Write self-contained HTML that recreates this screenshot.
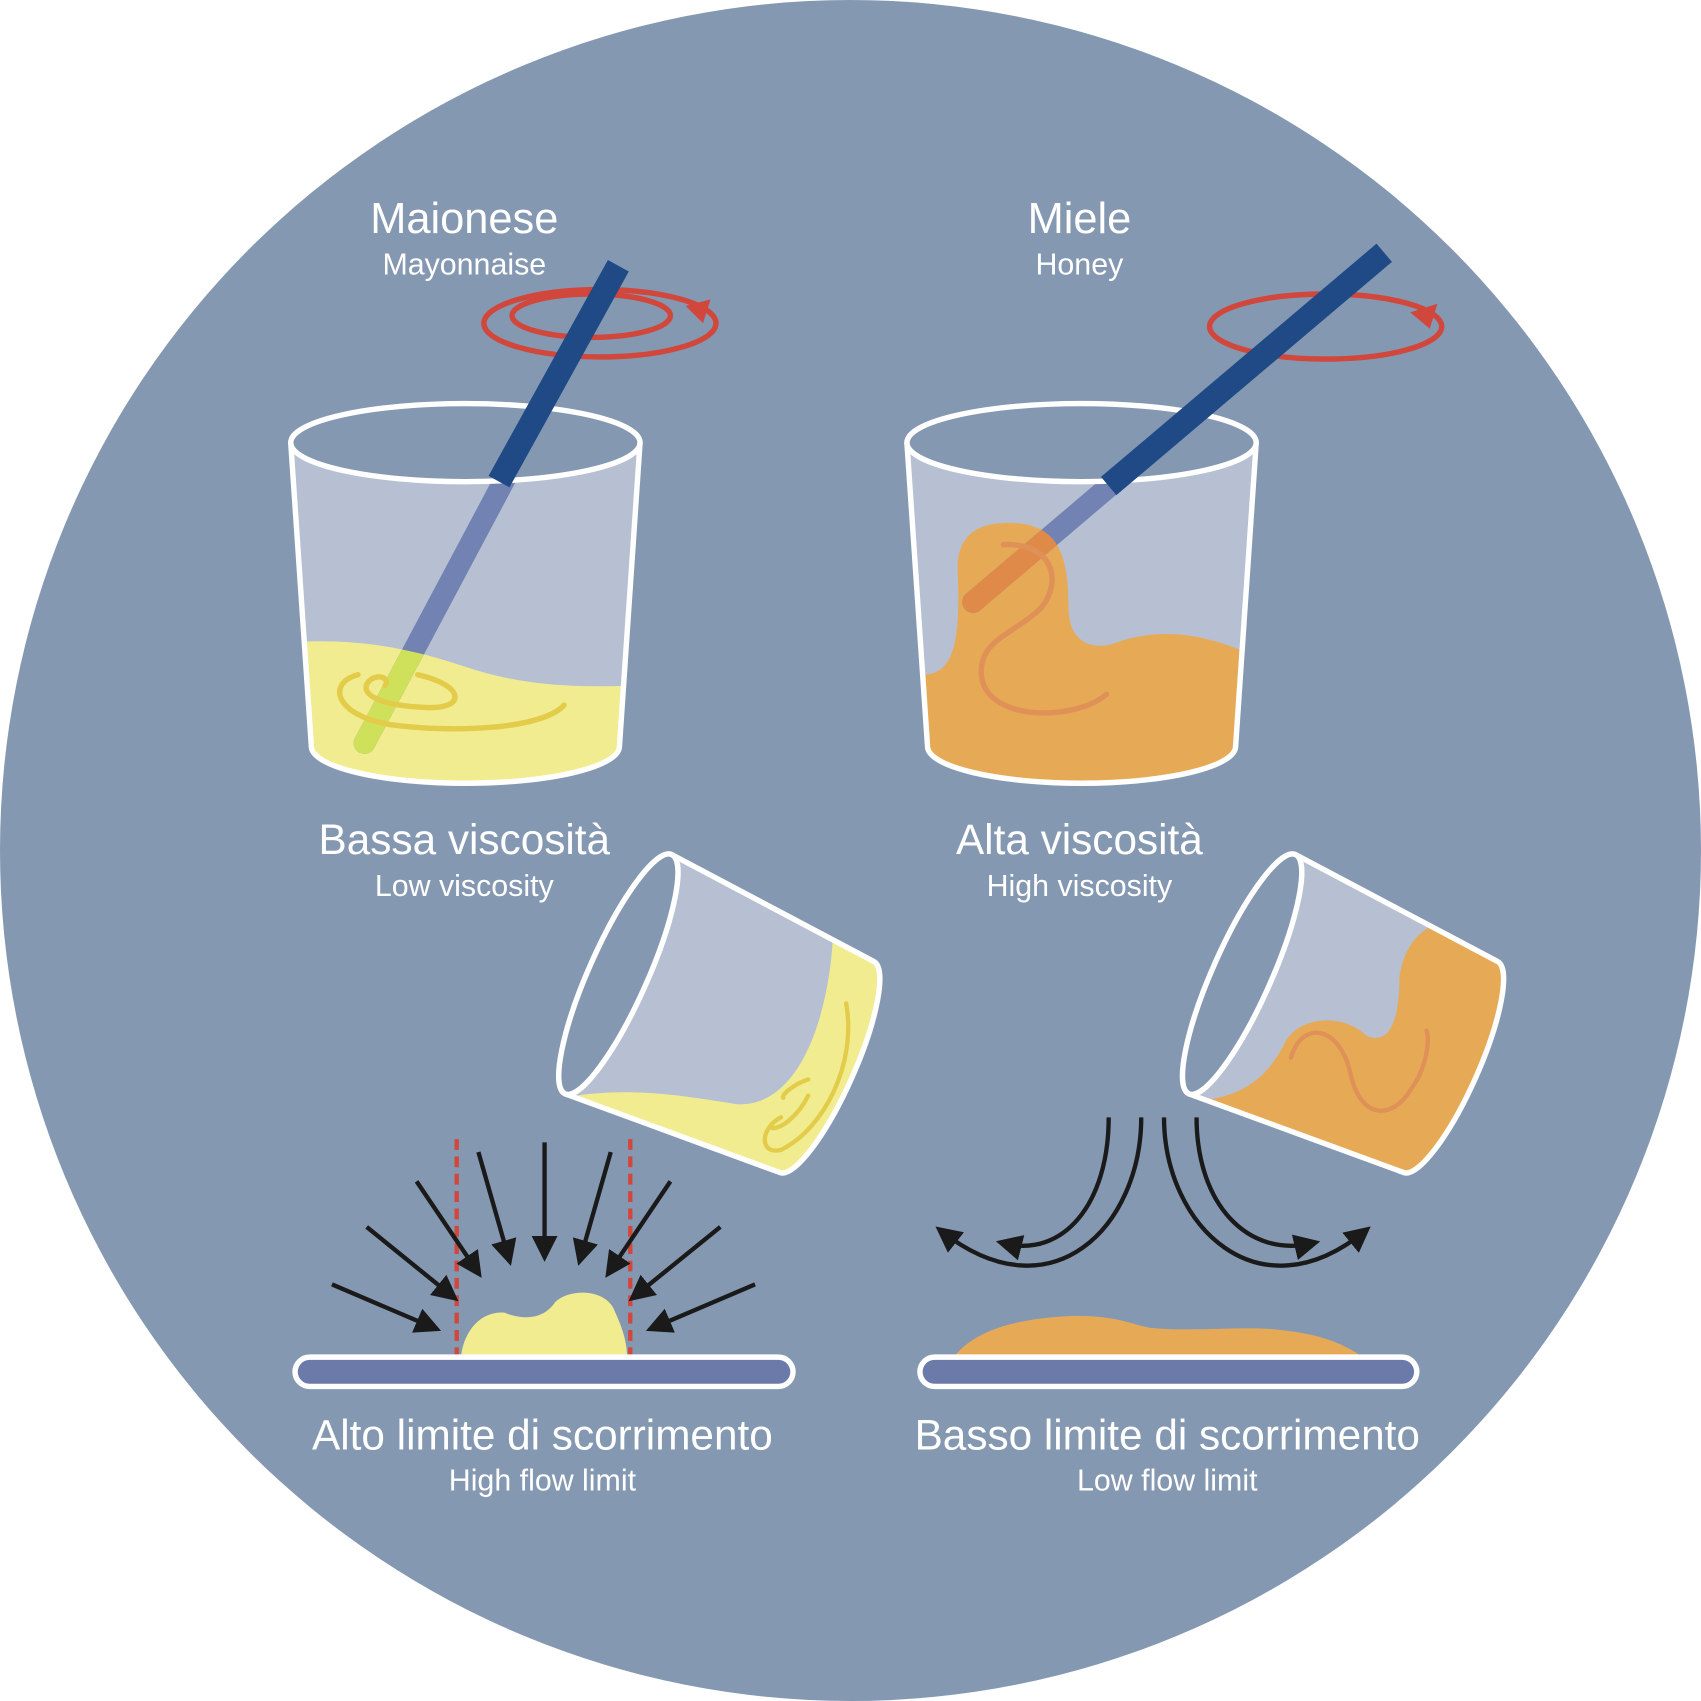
<!DOCTYPE html>
<html><head><meta charset="utf-8"><style>
html,body{margin:0;padding:0;background:#fff;}
svg{display:block;}
text{font-family:"Liberation Sans",sans-serif;fill:#fff;text-anchor:middle;}
</style></head><body>
<svg width="1701" height="1701" viewBox="0 0 1568 1568" xmlns="http://www.w3.org/2000/svg">
<defs>
<marker id="ah" viewBox="0 0 10 10" refX="7" refY="5" markerWidth="6" markerHeight="6" orient="auto"><path d="M0,0 L10,5 L0,10 Z" fill="#1a1a1a"/></marker>
<clipPath id="gl"><path d="M268,408 L287,688 A142,34 0 0 0 571,688 L590,408 Z"/></clipPath>
<clipPath id="gr"><path d="M836,408 L855,688 A142,34 0 0 0 1139,688 L1158,408 Z"/></clipPath>
<clipPath id="tl"><path transform="translate(570,898) rotate(-66) scale(0.75)" d="M-161,0 L-142,280 A142,34 0 0 0 142,280 L161,0 A161,36 0 0 0 -161,0 Z"/></clipPath>
<clipPath id="tr"><path transform="translate(1145,898) rotate(-66) scale(0.75)" d="M-161,0 L-142,280 A142,34 0 0 0 142,280 L161,0 A161,36 0 0 0 -161,0 Z"/></clipPath>
<clipPath id="ylw"><path d="M270,592 C330,588 380,598 430,615 C480,632 530,634 580,632 L580,740 L270,740 Z"/></clipPath>
<clipPath id="org"><path d="M850,622 C880,622 885,590 883,530 C880,490 905,482 930,482 C975,482 985,510 985,560 C985,595 1010,600 1030,592 C1070,578 1110,585 1145,600 L1145,740 L850,740 Z"/></clipPath>
</defs>
<circle cx="784" cy="784" r="784" fill="#8598b2"/>

<text x="428" y="215" font-size="40">Maionese</text>
<text x="428" y="253" font-size="28">Mayonnaise</text>
<text x="995" y="215" font-size="40">Miele</text>
<text x="995" y="253" font-size="28">Honey</text>
<text x="428" y="787" font-size="39">Bassa viscosità</text>
<text x="428" y="826" font-size="28">Low viscosity</text>
<text x="995" y="787" font-size="39">Alta viscosità</text>
<text x="995" y="826" font-size="28">High viscosity</text>
<text x="500" y="1336" font-size="39">Alto limite di scorrimento</text>
<text x="500" y="1374" font-size="28">High flow limit</text>
<text x="1076" y="1336" font-size="39">Basso limite di scorrimento</text>
<text x="1076" y="1374" font-size="28">Low  flow limit</text>

<ellipse cx="553" cy="298" rx="107" ry="31" fill="none" stroke="#d1473b" stroke-width="5"/>
<ellipse cx="545" cy="291" rx="73" ry="20" fill="none" stroke="#d1473b" stroke-width="5"/>
<path d="M632,282 L655,276 L648,298 Z" fill="#d1473b"/>
<path d="M268,408 L287,688 A142,34 0 0 0 571,688 L590,408 Z" fill="#b6c0d2"/>
<g clip-path="url(#gl)">
<path d="M270,592 C330,588 380,598 430,615 C480,632 530,634 580,632 L580,740 L270,740 Z" fill="#f1ec8f"/>
<line x1="570" y1="245" x2="336" y2="685" stroke="#7283b3" stroke-width="20" stroke-linecap="round"/>
<line x1="570" y1="245" x2="336" y2="685" stroke="#cfe05a" stroke-width="20" stroke-linecap="round" clip-path="url(#ylw)"/>
<path d="M330,622 C300,630 310,660 360,668 C420,676 500,672 520,650 M385,622 C430,632 430,655 390,652 C350,650 330,640 340,628 C348,620 360,625 355,632" fill="none" stroke="#e2cc4a" stroke-width="5" stroke-linecap="round"/>
</g>
<ellipse cx="429" cy="408" rx="161" ry="36" fill="#8598b2" stroke="#fff" stroke-width="5"/>
<line x1="570" y1="245" x2="460" y2="444" stroke="#1f4a86" stroke-width="22"/>
<path d="M268,408 L287,688 A142,34 0 0 0 571,688 L590,408" fill="none" stroke="#fff" stroke-width="5"/>

<ellipse cx="1222" cy="301" rx="107" ry="30" fill="none" stroke="#d1473b" stroke-width="5"/>
<path d="M1300,288 L1325,280 L1318,303 Z" fill="#d1473b"/>
<path d="M836,408 L855,688 A142,34 0 0 0 1139,688 L1158,408 Z" fill="#b6c0d2"/>
<g clip-path="url(#gr)">
<path d="M850,622 C880,622 885,590 883,530 C880,490 905,482 930,482 C975,482 985,510 985,560 C985,595 1010,600 1030,592 C1070,578 1110,585 1145,600 L1145,740 L850,740 Z" fill="#e6aa57"/>
<line x1="1276" y1="233" x2="897" y2="555" stroke="#7283b3" stroke-width="20" stroke-linecap="round"/>
<line x1="1276" y1="233" x2="897" y2="555" stroke="#e08a4a" stroke-width="20" stroke-linecap="round" clip-path="url(#org)"/>
<path d="M925,502 C970,500 980,535 960,560 C935,585 900,590 905,625 C912,665 990,665 1020,640" fill="none" stroke="#df9158" stroke-width="5" stroke-linecap="round"/>
</g>
<ellipse cx="997" cy="408" rx="161" ry="36" fill="#8598b2" stroke="#fff" stroke-width="5"/>
<line x1="1276" y1="233" x2="1022" y2="448" stroke="#1f4a86" stroke-width="22"/>
<path d="M836,408 L855,688 A142,34 0 0 0 1139,688 L1158,408" fill="none" stroke="#fff" stroke-width="5"/>

<g>
<path transform="translate(570,898) rotate(-66) scale(0.75)" d="M-161,0 L-142,280 A142,34 0 0 0 142,280 L161,0 A161,36 0 0 0 -161,0 Z" fill="#b6c0d2"/>
<g clip-path="url(#tl)">
<path d="M520,1012 C580,1000 640,1012 680,1018 C740,1020 765,930 768,860 L830,860 L830,1100 L500,1100 Z" fill="#f1ec8f"/>
<path d="M780,925 C790,980 760,1040 720,1060 C700,1065 700,1040 720,1030 M745,995 C730,1000 720,1010 722,1012 M745,1010 C735,1030 720,1040 712,1040" fill="none" stroke="#e2cc4a" stroke-width="4" stroke-linecap="round"/>
</g>
<ellipse transform="translate(570,898) rotate(-66)" cx="0" cy="0" rx="120.75" ry="27" fill="#8598b2" stroke="#fff" stroke-width="5"/>
<path transform="translate(570,898) rotate(-66) scale(0.75)" d="M-161,0 L-142,280 A142,34 0 0 0 142,280 L161,0" fill="none" stroke="#fff" stroke-width="6.6"/>
</g>
<g>
<path transform="translate(1145,898) rotate(-66) scale(0.75)" d="M-161,0 L-142,280 A142,34 0 0 0 142,280 L161,0 A161,36 0 0 0 -161,0 Z" fill="#b6c0d2"/>
<g clip-path="url(#tr)">
<path d="M1105,1015 C1150,1010 1170,990 1185,960 C1200,935 1240,935 1260,955 C1285,965 1290,930 1290,900 C1295,870 1310,855 1330,850 L1400,850 L1400,1100 L1090,1100 Z" fill="#e6aa57"/>
<path d="M1190,975 C1200,940 1235,945 1245,990 C1255,1035 1285,1030 1300,1005 C1315,985 1318,960 1315,950" fill="none" stroke="#df9158" stroke-width="4" stroke-linecap="round"/>
</g>
<ellipse transform="translate(1145,898) rotate(-66)" cx="0" cy="0" rx="120.75" ry="27" fill="#8598b2" stroke="#fff" stroke-width="5"/>
<path transform="translate(1145,898) rotate(-66) scale(0.75)" d="M-161,0 L-142,280 A142,34 0 0 0 142,280 L161,0" fill="none" stroke="#fff" stroke-width="6.6"/>
</g>

<path d="M425,1250 C428,1225 445,1208 465,1210 C480,1216 500,1218 512,1200 C525,1188 555,1188 565,1205 C572,1220 578,1235 578,1250 Z" fill="#f1ec8f"/>
<line x1="421" y1="1050" x2="421" y2="1250" stroke="#d1473b" stroke-width="4" stroke-dasharray="10,6"/>
<line x1="581" y1="1050" x2="581" y2="1250" stroke="#d1473b" stroke-width="4" stroke-dasharray="10,6"/>
<rect x="272" y="1251" width="459" height="27" rx="13.5" fill="#6b7aa8" stroke="#fff" stroke-width="5"/>
<g stroke="#1a1a1a" stroke-width="4" marker-end="url(#ah)">
<line x1="306" y1="1184" x2="400" y2="1224"/>
<line x1="338" y1="1131" x2="417" y2="1195"/>
<line x1="384" y1="1089" x2="440" y2="1172"/>
<line x1="441" y1="1062" x2="469" y2="1160"/>
<line x1="502" y1="1053" x2="502" y2="1156"/>
<line x1="563" y1="1062" x2="535" y2="1160"/>
<line x1="618" y1="1089" x2="562" y2="1172"/>
<line x1="664" y1="1131" x2="585" y2="1195"/>
<line x1="696" y1="1184" x2="602" y2="1224"/>
</g>
<path d="M880,1250 C900,1225 940,1215 990,1213 C1030,1213 1040,1220 1060,1224 C1100,1228 1150,1222 1180,1226 C1220,1230 1240,1240 1255,1250 Z" fill="#e6aa57"/>
<rect x="848" y="1251" width="458" height="27" rx="13.5" fill="#6b7aa8" stroke="#fff" stroke-width="5"/>
<g fill="none" stroke="#1a1a1a" stroke-width="4" marker-end="url(#ah)">
<path d="M1022,1030 C1022,1110 980,1160 925,1146"/>
<path d="M1052,1030 C1052,1130 970,1215 868,1135"/>
<path d="M1073,1030 C1073,1130 1160,1215 1258,1135"/>
<path d="M1103,1030 C1103,1110 1150,1160 1210,1146"/>
</g>
</svg>
</body></html>
